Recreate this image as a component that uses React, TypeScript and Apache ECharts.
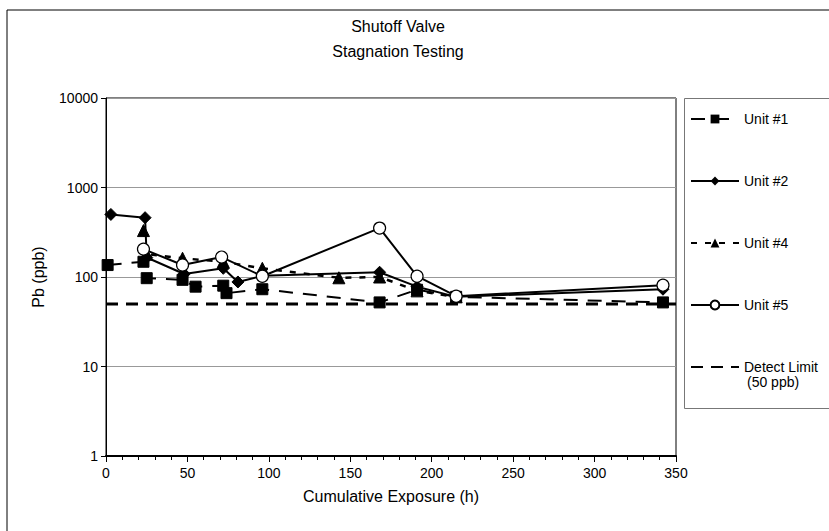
import React, { useEffect, useRef } from "react";
import * as echarts from "echarts";

const FONT = "'Liberation Sans Narrow', 'Liberation Sans', Arial, sans-serif";

const titleLines = ["Shutoff Valve", "Stagnation Testing"];
const xAxisName = "Cumulative Exposure (h)";
const yAxisName = "Pb (ppb)";

const unit1: [number, number][] = [
  [1, 136], [23, 148], [25, 97], [47, 93], [55, 78], [72, 80], [74, 66], [96, 73],
  [168, 52], [191, 72], [215, 60], [342, 52],
];
const unit2: [number, number][] = [
  [3, 500], [24, 460], [25, 165], [48, 108], [72, 125], [81, 88], [96, 103],
  [168, 113], [191, 78], [215, 60], [342, 73],
];
const unit4: [number, number][] = [
  [23, 330], [25, 180], [47, 162], [72, 148], [96, 125], [143, 98], [168, 100],
  [191, 70], [215, 60],
];
const unit5: [number, number][] = [
  [23, 205], [47, 136], [71, 167], [96, 102], [168, 352], [191, 102], [215, 61], [342, 81],
];
const detectLimit: [number, number][] = [
  [0, 50], [350, 50],
];

const seriesNames = ["Unit #1", "Unit #2", "Unit #4", "Unit #5", "Detect Limit"];
const detectNote = "(50 ppb)";

export default function App() {
  const ref = useRef<HTMLDivElement>(null);
  useEffect(() => {
    if (!ref.current) return;
    const chart = echarts.init(ref.current, null, { renderer: "svg" });
    const lineBase = { color: "#000", width: 2 };
    chart.setOption({
      animation: false,
      backgroundColor: "#fff",
      textStyle: { fontFamily: FONT, color: "#000" },
      title: {
        text: titleLines.join("\n"),
        left: 393,
        top: 9,
        textAlign: "center",
        textStyle: { fontFamily: FONT, fontSize: 16, fontWeight: "normal", color: "#000", lineHeight: 25 },
      },
      graphic: [
        { type: "rect", shape: { x: 7, y: 10, width: 900, height: 600 }, style: { fill: "none", stroke: "#000", lineWidth: 1 }, silent: true, z: -1 },
        { type: "rect", shape: { x: 684.5, y: 98.5, width: 200, height: 310 }, style: { fill: "none", stroke: "#777", lineWidth: 1 }, silent: true, z: -1 },
        { type: "text", left: 747, top: 375, style: { text: detectNote, font: `14px ${FONT}`, fill: "#000" }, silent: true },
      ],
      legend: {
        orient: "vertical",
        left: 690,
        top: 110,
        padding: 0,
        itemWidth: 48,
        itemHeight: 11,
        itemGap: 44,
        data: [
          seriesNames[0],
          seriesNames[1],
          seriesNames[2],
          seriesNames[3],
          { name: seriesNames[4], itemStyle: { opacity: 0 } },
        ],
        textStyle: { fontFamily: FONT, fontSize: 14, color: "#000", lineHeight: 18 },
      },
      grid: { left: 106, top: 98, width: 570, height: 358, show: true, borderColor: "#000", borderWidth: 1 },
      xAxis: {
        type: "value",
        min: 0,
        max: 350,
        interval: 50,
        name: xAxisName,
        nameLocation: "middle",
        nameGap: 32,
        nameTextStyle: { fontFamily: FONT, fontSize: 16, color: "#000" },
        axisLine: { onZero: false, lineStyle: { color: "#000", width: 2 } },
        axisTick: { show: true, inside: false, length: 6, lineStyle: { color: "#000" } },
        minorTick: { show: true, splitNumber: 5, length: 4, lineStyle: { color: "#000" } },
        axisLabel: { fontFamily: FONT, fontSize: 14, color: "#000", margin: 10 },
        splitLine: { show: false },
      },
      yAxis: {
        type: "log",
        logBase: 10,
        min: 1,
        max: 10000,
        name: yAxisName,
        nameLocation: "middle",
        nameGap: 60,
        nameTextStyle: { fontFamily: FONT, fontSize: 16, color: "#000" },
        axisLine: { lineStyle: { color: "#000", width: 1 } },
        axisTick: { show: true, length: 5, lineStyle: { color: "#000" } },
        axisLabel: { fontFamily: FONT, fontSize: 14, color: "#000", margin: 8, formatter: (v: number) => String(Math.round(v)) },
        splitLine: { show: true, lineStyle: { color: "#999", width: 1 } },
      },
      series: [
        {
          name: seriesNames[4],
          type: "line",
          data: detectLimit,
          symbol: "none",
          lineStyle: { color: "#000", width: 3, type: [12, 8] },
          itemStyle: { color: "#000" },
          z: 1,
        },
        {
          name: seriesNames[0],
          type: "line",
          data: unit1,
          symbol: "rect",
          symbolSize: 11,
          lineStyle: { ...lineBase, type: [14, 10] },
          itemStyle: { color: "#000", borderColor: "#000" },
          z: 2,
        },
        {
          name: seriesNames[1],
          type: "line",
          data: unit2,
          symbol: "diamond",
          symbolSize: 12,
          lineStyle: { ...lineBase, type: "solid" },
          itemStyle: { color: "#000", borderColor: "#000" },
          z: 3,
        },
        {
          name: seriesNames[2],
          type: "line",
          data: unit4,
          symbol: "triangle",
          symbolSize: 12,
          lineStyle: { ...lineBase, width: 2.5, type: [6, 8] },
          itemStyle: { color: "#000", borderColor: "#000" },
          z: 4,
        },
        {
          name: seriesNames[3],
          type: "line",
          data: unit5,
          symbol: "circle",
          symbolSize: 12,
          lineStyle: { ...lineBase, type: "solid" },
          itemStyle: { color: "#fff", borderColor: "#000", borderWidth: 1.2 },
          z: 5,
        },
      ],
    });
    return () => chart.dispose();
  }, []);
  return <div ref={ref} style={{ position: "fixed", left: 0, top: 0, width: 829, height: 531 }} />;
}
